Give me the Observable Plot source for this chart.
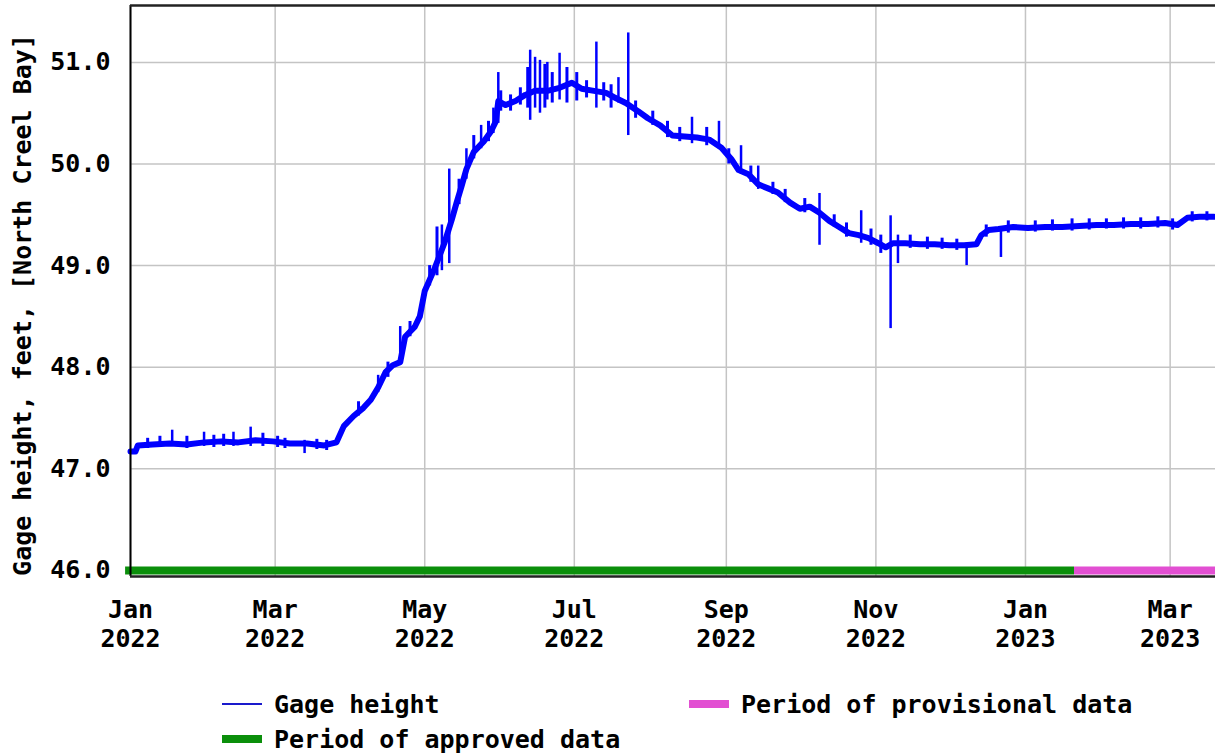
<!DOCTYPE html>
<html>
<head>
<meta charset="utf-8">
<script src="https://cdn.jsdelivr.net/npm/d3@7"></script>
<script src="https://cdn.jsdelivr.net/npm/@observablehq/plot@0.6"></script>
<style>
  html, body { margin: 0; padding: 0; background: #fff; overflow: hidden; }
  #wrap { position: relative; width: 1215px; height: 753px; }
  #legend { position: absolute; left: 0; top: 670px; width: 1215px; height: 83px;
    font-family: "DejaVu Sans Mono", monospace; font-weight: bold; font-size: 25px; color: #000; }
  .item { position: absolute; display: flex; align-items: center; height: 30px; white-space: pre; }
  .sw { display: inline-block; width: 40px; margin-right: 12px; }
</style>
</head>
<body>
<div id="wrap">
  <div id="chart"></div>
  <div id="legend"></div>
</div>
<script>
// ---------------- data ----------------
const trendDates = [
  "2022-01-01","2022-01-03","2022-01-04","2022-01-10","2022-01-17","2022-01-24","2022-01-31",
  "2022-02-07","2022-02-14","2022-02-21","2022-02-28","2022-03-07","2022-03-14","2022-03-21",
  "2022-03-26","2022-03-29","2022-04-02","2022-04-06","2022-04-09","2022-04-12","2022-04-15",
  "2022-04-18","2022-04-21","2022-04-23","2022-04-27","2022-04-29","2022-05-01","2022-05-05",
  "2022-05-09","2022-05-12","2022-05-14","2022-05-16","2022-05-18","2022-05-21","2022-05-25",
  "2022-05-28","2022-05-30","2022-05-31","2022-06-03","2022-06-07","2022-06-11","2022-06-15",
  "2022-06-20","2022-06-25","2022-06-30","2022-07-04","2022-07-09","2022-07-14","2022-07-17",
  "2022-07-22","2022-07-27","2022-07-31","2022-08-05","2022-08-10","2022-08-15","2022-08-20",
  "2022-08-25","2022-08-30","2022-09-03","2022-09-06","2022-09-10","2022-09-14","2022-09-18",
  "2022-09-22","2022-09-27","2022-10-01","2022-10-05","2022-10-09","2022-10-13","2022-10-17",
  "2022-10-21","2022-10-25","2022-10-29","2022-11-02","2022-11-05","2022-11-08","2022-11-13",
  "2022-11-19","2022-11-25","2022-12-01","2022-12-07","2022-12-12","2022-12-14","2022-12-17",
  "2022-12-21","2022-12-27","2023-01-02","2023-01-09","2023-01-16","2023-01-23","2023-01-30",
  "2023-02-06","2023-02-13","2023-02-20","2023-02-27","2023-03-04","2023-03-08","2023-03-13",
  "2023-03-19"
];
const trendValues = [
  47.17,47.17,47.23,47.24,47.25,47.24,47.26,
  47.27,47.26,47.28,47.27,47.25,47.25,47.23,
  47.26,47.42,47.52,47.60,47.68,47.80,47.95,
  48.02,48.05,48.30,48.40,48.50,48.75,48.97,
  49.22,49.45,49.62,49.78,49.95,50.12,50.22,
  50.32,50.42,50.62,50.58,50.62,50.68,50.72,
  50.72,50.75,50.80,50.74,50.72,50.70,50.66,
  50.60,50.52,50.45,50.38,50.28,50.27,50.26,
  50.24,50.16,50.05,49.94,49.90,49.80,49.76,
  49.72,49.62,49.56,49.58,49.52,49.44,49.38,
  49.32,49.30,49.27,49.22,49.18,49.22,49.22,
  49.21,49.21,49.20,49.20,49.21,49.30,49.35,
  49.36,49.38,49.37,49.38,49.38,49.39,49.40,
  49.40,49.41,49.41,49.42,49.40,49.47,49.48,
  49.48
];
// large spikes
const spikeDates = [
  "2022-01-18","2022-01-31","2022-02-12","2022-02-19","2022-03-13",
  "2022-04-12","2022-04-21","2022-05-08","2022-05-11","2022-05-18","2022-05-24","2022-05-29",
  "2022-05-31","2022-06-13","2022-06-15","2022-06-17","2022-06-20","2022-06-25","2022-07-10",
  "2022-07-19","2022-07-23","2022-08-18","2022-08-29","2022-09-07","2022-09-14","2022-10-09",
  "2022-10-26","2022-11-07","2022-11-10","2022-12-08","2022-12-22"
];
const spikeLows = [
  47.22,47.22,47.22,47.22,47.15,
  47.75,48.05,48.95,49.02,49.85,50.15,50.30,
  50.40,50.43,50.55,50.50,50.63,50.63,50.55,
  50.60,50.28,50.20,50.15,49.90,49.75,49.20,
  49.22,48.38,49.02,49.00,49.08
];
const spikeHighs = [
  47.38,47.36,47.36,47.41,47.28,
  47.92,48.40,49.40,49.95,50.15,50.38,50.55,
  50.90,51.12,51.05,51.02,51.00,51.09,51.20,
  50.85,51.29,50.46,50.42,50.18,49.98,49.71,
  49.54,49.49,49.30,49.22,49.38
];
// small day-to-day fluctuations
const noiseDates = [
  "2022-01-08","2022-01-13","2022-01-24","2022-02-04","2022-02-08","2022-02-24","2022-03-02",
  "2022-03-05","2022-03-18","2022-03-22","2022-04-04","2022-04-16","2022-04-25","2022-05-03",
  "2022-05-06","2022-05-15","2022-05-21","2022-05-27","2022-06-01","2022-06-05","2022-06-09",
  "2022-06-12","2022-06-19","2022-06-22","2022-06-28","2022-07-02","2022-07-06","2022-07-13",
  "2022-07-16","2022-07-26","2022-08-02","2022-08-08","2022-08-13","2022-08-24","2022-09-02",
  "2022-09-11","2022-09-20","2022-09-25","2022-10-03","2022-10-15","2022-10-20","2022-10-30",
  "2022-11-03","2022-11-15","2022-11-22","2022-11-28","2022-12-04","2022-12-16","2022-12-25",
  "2023-01-05","2023-01-12","2023-01-20","2023-01-27","2023-02-03","2023-02-10","2023-02-17",
  "2023-02-24","2023-03-02","2023-03-10","2023-03-16"
];
const noiseLows = [
  47.20,47.21,47.20,47.21,47.22,47.22,47.21,
  47.20,47.19,47.18,47.52,47.90,48.30,48.80,
  48.90,49.60,50.05,50.22,50.52,50.52,50.58,
  50.55,50.55,50.60,50.60,50.62,50.65,50.62,
  50.55,50.45,50.38,50.26,50.22,50.18,50.00,
  49.82,49.70,49.62,49.52,49.38,49.28,49.20,
  49.12,49.17,49.16,49.16,49.15,49.28,49.32,
  49.33,49.34,49.34,49.35,49.36,49.36,49.36,
  49.37,49.35,49.43,49.44
];
const noiseHighs = [
  47.30,47.32,47.32,47.33,47.34,47.35,47.32,
  47.30,47.29,47.28,47.66,48.05,48.45,49.00,
  49.38,49.85,50.28,50.42,50.72,50.68,50.75,
  50.95,50.98,50.90,50.95,50.90,50.82,50.80,
  50.78,50.62,50.52,50.42,50.36,50.36,50.15,
  49.98,49.82,49.75,49.66,49.50,49.42,49.36,
  49.30,49.30,49.28,49.27,49.26,49.40,49.44,
  49.44,49.45,49.46,49.46,49.46,49.47,49.47,
  49.48,49.46,49.53,49.53
];
const periodNames  = ["Period of approved data", "Period of provisional data"];
const periodStarts = ["2021-12-30", "2023-01-21"];
const periodEnds   = ["2023-01-21", "2023-03-19T12:00"];
const periodLevel  = 46.0;
const yTicks = [46, 47, 48, 49, 50, 51];
const xTickDates = ["2022-01-01","2022-03-01","2022-05-01","2022-07-01",
                    "2022-09-01","2022-11-01","2023-01-01","2023-03-01"];
const yLabel = "Gage height, feet, [North Creel Bay]";
const seriesName = "Gage height";
const xDomain = ["2022-01-01", "2023-03-19T12:00"];
const yDomain = [45.94, 51.56];

// ---------------- build ----------------
const P = d3.utcParse("%Y-%m-%d");
const parse = s => s.length > 10 ? new Date(s + "Z") : P(s);
const trend = trendDates.map((d, i) => ({date: parse(d), value: trendValues[i]}));
const spikes = spikeDates.map((d, i) => ({date: parse(d), low: spikeLows[i], high: spikeHighs[i]}));
const noise = noiseDates.map((d, i) => ({date: parse(d), low: noiseLows[i], high: noiseHighs[i]}));
const periodColors = ["#0b8f0b", "#e24fd2"];
const periods = periodNames.map((n, i) => ({name: n, start: parse(periodStarts[i]), end: parse(periodEnds[i]), level: periodLevel, color: periodColors[i]}));
const xt = xTickDates.map(parse);
const xd = xDomain.map(parse);
const fmt = d3.utcFormat("%b\n%Y");
const BLUE = "#0000ff";
const GRID = "#c4c4c4";

const chart = Plot.plot({
  width: 1215,
  height: 670,
  marginTop: 5,
  marginBottom: 94,
  marginLeft: 130,
  marginRight: 0,
  style: {fontFamily: "'DejaVu Sans Mono', monospace", fontSize: "25px", fontWeight: "bold", color: "#000", background: "#fff"},
  x: {type: "utc", domain: xd},
  y: {domain: yDomain},
  marks: [
    Plot.gridX(xt, {stroke: GRID, strokeOpacity: 1, strokeWidth: 1.5}),
    Plot.gridY(yTicks, {stroke: GRID, strokeOpacity: 1, strokeWidth: 1.5}),
    Plot.axisX(xt, {tickSize: 0, tickPadding: 21, tickFormat: fmt, lineHeight: 1.16, fill: "#000"}),
    Plot.axisY(yTicks, {tickSize: 0, tickPadding: 20, tickFormat: d => d.toFixed(1), label: null, fill: "#000"}),
    Plot.text([yLabel], {frameAnchor: "left", rotate: -90, dx: -108, dy: 14, textAnchor: "middle", fill: "#000"}),
    Plot.ruleY(periods, {y: "level", x1: "start", x2: "end", stroke: "color", strokeWidth: 8}),
    Plot.line(trend, {x: "date", y: "value", stroke: BLUE, strokeWidth: 6}),
    Plot.ruleX(noise, {x: "date", y1: "low", y2: "high", stroke: BLUE, strokeWidth: 3}),
    Plot.ruleX(spikes, {x: "date", y1: "low", y2: "high", stroke: BLUE, strokeWidth: 2.5}),
    Plot.ruleX([xd[0]], {stroke: "#000", strokeWidth: 2}),
    Plot.ruleY([yDomain[0]], {stroke: "#222", strokeWidth: 2.5}),
    Plot.ruleY([yDomain[1]], {stroke: "#222", strokeWidth: 2.5})
  ]
});
document.getElementById("chart").appendChild(chart);

// ---------------- legend ----------------
const legend = document.getElementById("legend");
function addItem(left, top, swatchStyle, text) {
  const it = document.createElement("div");
  it.className = "item";
  it.style.left = left + "px";
  it.style.top = top + "px";
  const sw = document.createElement("span");
  sw.className = "sw";
  Object.assign(sw.style, swatchStyle);
  const tx = document.createElement("span");
  tx.textContent = text;
  it.appendChild(sw);
  it.appendChild(tx);
  legend.appendChild(it);
}
addItem(222, 19, {height: "2px", background: "#1a1acc"}, seriesName);
addItem(689, 19, {height: "8px", background: periodColors[1]}, periodNames[1]);
addItem(222, 54, {height: "8px", background: periodColors[0]}, periodNames[0]);
</script>
</body>
</html>
